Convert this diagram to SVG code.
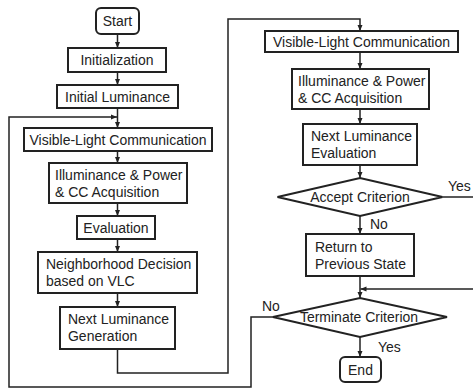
<svg xmlns="http://www.w3.org/2000/svg" width="473" height="389" viewBox="0 0 473 389">
<defs>
<marker id="ah" markerWidth="6" markerHeight="6" refX="6" refY="3" orient="auto" markerUnits="userSpaceOnUse"><path d="M0,0.5 L6,3 L0,5.5 z" fill="#222"/></marker>
<style>
.box{fill:#fff;stroke:#222;stroke-width:2}
.t{font-family:"Liberation Sans",Arial,sans-serif;font-size:14px;fill:#222;transform-box:fill-box;transform-origin:center;transform:scaleY(1.1)}
.c{text-anchor:middle}
.ln{fill:none;stroke:#222;stroke-width:1.5}
.ar{marker-end:url(#ah)}
</style>
</defs>
<rect width="473" height="389" fill="#fff"/>
<g id="connectors">
<path class="ln ar" d="M117.5,34 V48"/>
<path class="ln ar" d="M117.5,72 V85"/>
<path class="ln ar" d="M117.5,108 V128"/>
<path class="ln ar" d="M117.5,151 V163"/>
<path class="ln ar" d="M117.5,203 V216"/>
<path class="ln ar" d="M117.5,239 V252"/>
<path class="ln ar" d="M117.5,293 V307"/>
<path class="ln ar" d="M117.5,349 V373 H228 V19 H360 V31"/>
<path class="ln ar" d="M360,52 V69"/>
<path class="ln ar" d="M360,109 V124"/>
<path class="ln ar" d="M360,165 V178"/>
<path class="ln ar" d="M360,216 V234"/>
<path class="ln ar" d="M360,276 V298"/>
<path class="ln" d="M442.5,197 H473"/>
<path class="ln ar" d="M473,289 H360.5"/>
<path class="ln ar" d="M360,337 V357"/>
<path class="ln ar" d="M273,317 H251 V387 H9 V117 H117"/>
<text class="t" x="448" y="191">Yes</text>
<text class="t" x="370" y="229">No</text>
<text class="t" x="262" y="311">No</text>
<text class="t" x="378" y="352">Yes</text>
</g>
<g id="start"><rect class="box" x="96" y="8" width="43" height="26" rx="5"/><text class="t c" x="117.5" y="26">Start</text></g>
<g id="init"><rect class="box" x="68" y="48" width="98" height="24"/><text class="t c" x="117" y="65">Initialization</text></g>
<g id="initlum"><rect class="box" x="57" y="85" width="121" height="23"/><text class="t c" x="117.5" y="101.5">Initial Luminance</text></g>
<g id="vlc1"><rect class="box" x="24" y="128" width="188" height="23"/><text class="t c" x="118" y="144.5">Visible-Light Communication</text></g>
<g id="illum1"><rect class="box" x="49" y="163" width="138" height="40"/><text class="t" x="55" y="180">Illuminance &amp; Power</text><text class="t" x="55" y="197">&amp; CC Acquisition</text></g>
<g id="eval"><rect class="box" x="77" y="216" width="78" height="23"/><text class="t c" x="116" y="232.5">Evaluation</text></g>
<g id="neigh"><rect class="box" x="38" y="252" width="159" height="41"/><text class="t" x="46" y="268.5">Neighborhood Decision</text><text class="t" x="46" y="285.5">based on VLC</text></g>
<g id="nlg"><rect class="box" x="60" y="307" width="115" height="42"/><text class="t" x="68" y="324">Next Luminance</text><text class="t" x="68" y="341">Generation</text></g>
<g id="vlc2"><rect class="box" x="265" y="31" width="193" height="21"/><text class="t c" x="361.5" y="46.5">Visible-Light Communication</text></g>
<g id="illum2"><rect class="box" x="292" y="69" width="137" height="40"/><text class="t" x="298" y="86">Illuminance &amp; Power</text><text class="t" x="298" y="103">&amp; CC Acquisition</text></g>
<g id="nle"><rect class="box" x="303" y="124" width="114" height="41"/><text class="t" x="311" y="141">Next Luminance</text><text class="t" x="311" y="158">Evaluation</text></g>
<g id="accept"><polygon class="box" points="277.5,197 360,178 442.5,197 360,216"/><text class="t c" x="360" y="202">Accept Criterion</text></g>
<g id="return"><rect class="box" x="306" y="234" width="108" height="42"/><text class="t" x="315" y="251.5">Return to</text><text class="t" x="315" y="268.5">Previous State</text></g>
<g id="terminate"><polygon class="box" points="273,317 360,298 447,317 360,337"/><text class="t c" x="359" y="322">Terminate Criterion</text></g>
<g id="end"><rect class="box" x="340" y="357" width="41" height="25" rx="5"/><text class="t c" x="360.5" y="374.5">End</text></g>
</svg>
